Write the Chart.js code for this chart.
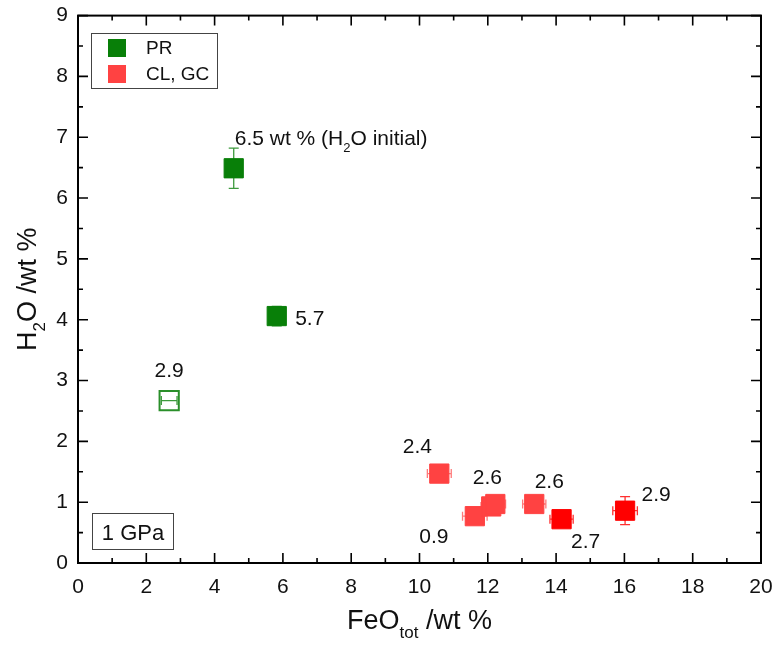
<!DOCTYPE html>
<html>
<head>
<meta charset="utf-8">
<script src="https://cdn.jsdelivr.net/npm/chart.js@4.4.0/dist/chart.umd.min.js"></script>
<style>
  html, body { margin: 0; padding: 0; background: #fff; }
  #wrap { width: 777px; height: 645px; }
</style>
</head>
<body>
<div id="wrap"><canvas id="feoChart"></canvas></div>
<script>
// PR runs, filled squares
const prFeO = [4.56, 5.82];
const prH2O = [6.49, 4.06];
const prErrX = [0, 0];
const prErrY = [0.33, 0.16];
const prNotes = ['6.5 wt % (H_{2}O initial)', '5.7'];

// PR run, open square
const prOpenFeO = [2.67];
const prOpenH2O = [2.67];
const prOpenErrX = [0.23];
const prOpenErrY = [0];
const prOpenNotes = ['2.9'];

// CL, GC runs
const clFeO = [10.58, 11.62, 12.1, 12.22, 13.36];
const clH2O = [1.47, 0.77, 0.93, 0.97, 0.97];
const clErrX = [0.35, 0.36, 0.3, 0.3, 0.34];
const clErrY = [0, 0, 0, 0, 0];
const clNotes = ['2.4', '0.9', '', '2.6', '2.6'];

// remaining runs, pure red
const redFeO = [14.16, 16.02];
const redH2O = [0.72, 0.86];
const redErrX = [0.34, 0.36];
const redErrY = [0, 0.23];
const redNotes = ['2.7', '2.9'];

// note placement: [dx, dy] in pixels from the point
const prNoteOffsets = [[1, -23], [33, 9]];
const prOpenNoteOffsets = [[0, -24]];
const clNoteOffsets = [[-22, -21], [-41, 27], [0, 0], [-8, -20], [15, -16]];
const redNoteOffsets = [[24, 29], [31, -10]];

const FONT = '"Liberation Sans", Arial, sans-serif';

function pts(xs, ys) {
  return xs.map((x, i) => ({ x: x, y: ys[i] }));
}

// draws text with _{...} subscripts
function drawRich(ctx, str, x, y, size, align) {
  const parts = [];
  const re = /_\{([^}]*)\}/g;
  let last = 0, m;
  while ((m = re.exec(str)) !== null) {
    if (m.index > last) parts.push([str.slice(last, m.index), false]);
    parts.push([m[1], true]);
    last = re.lastIndex;
  }
  if (last < str.length) parts.push([str.slice(last), false]);
  const sub = Math.round(size * 0.62);
  let total = 0;
  parts.forEach(p => {
    ctx.font = (p[1] ? sub : size) + 'px ' + FONT;
    p.push(ctx.measureText(p[0]).width);
    total += p[2];
  });
  let cx = align === 'center' ? x - total / 2 : (align === 'right' ? x - total : x);
  ctx.textAlign = 'left';
  ctx.textBaseline = 'alphabetic';
  parts.forEach(p => {
    ctx.font = (p[1] ? sub : size) + 'px ' + FONT;
    ctx.fillText(p[0], cx, p[1] ? y + size * 0.33 : y);
    cx += p[2];
  });
  return total;
}

const plotDecor = {
  id: 'plotDecor',
  beforeDatasetsDraw(chart) {
    const ctx = chart.ctx;
    const xs = chart.scales.x, ys = chart.scales.y;
    ctx.save();
    chart.data.datasets.forEach(ds => {
      ctx.strokeStyle = ds.errColor;
      ctx.lineWidth = 1.3;
      ds.data.forEach((p, i) => {
        const px = xs.getPixelForValue(p.x), py = ys.getPixelForValue(p.y);
        const ex = ds.errX[i], ey = ds.errY[i];
        ctx.beginPath();
        if (ex > 0) {
          const x0 = xs.getPixelForValue(p.x - ex), x1 = xs.getPixelForValue(p.x + ex);
          ctx.moveTo(x0, py); ctx.lineTo(x1, py);
          ctx.moveTo(x0, py - 4.5); ctx.lineTo(x0, py + 4.5);
          ctx.moveTo(x1, py - 4.5); ctx.lineTo(x1, py + 4.5);
        }
        if (ey > 0) {
          const y0 = ys.getPixelForValue(p.y - ey), y1 = ys.getPixelForValue(p.y + ey);
          ctx.moveTo(px, y0); ctx.lineTo(px, y1);
          ctx.moveTo(px - 5, y0); ctx.lineTo(px + 5, y0);
          ctx.moveTo(px - 5, y1); ctx.lineTo(px + 5, y1);
        }
        ctx.stroke();
      });
    });
    ctx.restore();
  },
  afterDraw(chart) {
    const ctx = chart.ctx;
    const a = chart.chartArea;
    const xs = chart.scales.x, ys = chart.scales.y;
    ctx.save();

    // frame
    ctx.strokeStyle = '#000';
    ctx.lineWidth = 2;
    ctx.strokeRect(a.left, a.top, a.right - a.left, a.bottom - a.top);

    // inward ticks on all four sides, minor ones halfway between
    ctx.lineWidth = 1.6;
    ctx.beginPath();
    const xt = xs.ticks.map(t => t.value);
    xt.forEach((v, i) => {
      const px = xs.getPixelForValue(v);
      ctx.moveTo(px, a.bottom); ctx.lineTo(px, a.bottom - 10);
      ctx.moveTo(px, a.top); ctx.lineTo(px, a.top + 10);
      if (i < xt.length - 1) {
        const mx = xs.getPixelForValue((v + xt[i + 1]) / 2);
        ctx.moveTo(mx, a.bottom); ctx.lineTo(mx, a.bottom - 5);
        ctx.moveTo(mx, a.top); ctx.lineTo(mx, a.top + 5);
      }
    });
    const yt = ys.ticks.map(t => t.value);
    yt.forEach((v, i) => {
      const py = ys.getPixelForValue(v);
      ctx.moveTo(a.left, py); ctx.lineTo(a.left + 10, py);
      ctx.moveTo(a.right, py); ctx.lineTo(a.right - 10, py);
      if (i < yt.length - 1) {
        const my = ys.getPixelForValue((v + yt[i + 1]) / 2);
        ctx.moveTo(a.left, my); ctx.lineTo(a.left + 5, my);
        ctx.moveTo(a.right, my); ctx.lineTo(a.right - 5, my);
      }
    });
    ctx.stroke();

    // notes beside the points
    ctx.fillStyle = '#111';
    chart.data.datasets.forEach(ds => {
      ds.data.forEach((p, i) => {
        const txt = ds.notes[i];
        if (!txt) return;
        const px = xs.getPixelForValue(p.x), py = ys.getPixelForValue(p.y);
        const off = ds.noteOffsets[i];
        const isLong = txt.length > 4;
        drawRich(ctx, txt, px + off[0], py + off[1], 21, isLong ? 'left' : 'center');
      });
    });

    // legend box
    ctx.strokeStyle = '#444';
    ctx.lineWidth = 1;
    ctx.strokeRect(91.5, 33.5, 126, 55);
    const legendSets = chart.data.datasets.filter(ds => ds.inLegend);
    legendSets.forEach((ds, i) => {
      const cy = 48 + i * 26;
      ctx.fillStyle = ds.backgroundColor;
      ctx.fillRect(108, cy - 9, 18, 18);
      ctx.fillStyle = '#111';
      ctx.font = '19px ' + FONT;
      ctx.textAlign = 'left';
      ctx.textBaseline = 'middle';
      ctx.fillText(ds.label, 146, cy + 1);
    });

    // pressure box
    ctx.strokeStyle = '#444';
    ctx.strokeRect(92.5, 513.5, 81, 36);
    ctx.fillStyle = '#111';
    drawRich(ctx, '1 GPa', 133, 540, 22, 'center');

    // axis titles
    drawRich(ctx, 'FeO_{tot} /wt %', (a.left + a.right) / 2, 629, 27, 'center');
    ctx.translate(36, (a.top + a.bottom) / 2);
    ctx.rotate(-Math.PI / 2);
    drawRich(ctx, 'H_{2}O /wt %', 0, 0, 27, 'center');

    ctx.restore();
  }
};

function squareSet(label, xs, ys, ex, ey, notes, offs, fill, edge, errColor, inLegend) {
  return {
    label: label,
    data: pts(xs, ys),
    errX: ex,
    errY: ey,
    notes: notes,
    noteOffsets: offs,
    errColor: errColor,
    inLegend: inLegend,
    backgroundColor: fill,
    borderColor: edge,
    pointStyle: 'rect',
    pointRadius: 13.6,
    pointHoverRadius: 13.6,
    pointBorderWidth: fill === 'rgba(0,0,0,0)' ? 2 : 1,
    showLine: false
  };
}

new Chart(document.getElementById('feoChart'), {
  type: 'scatter',
  data: {
    datasets: [
      squareSet('PR', prFeO, prH2O, prErrX, prErrY, prNotes, prNoteOffsets,
        '#087f08', '#087f08', '#3d9a3d', true),
      squareSet('PR open', prOpenFeO, prOpenH2O, prOpenErrX, prOpenErrY, prOpenNotes, prOpenNoteOffsets,
        'rgba(0,0,0,0)', '#2a8f2a', '#3d9a3d', false),
      squareSet('CL, GC', clFeO, clH2O, clErrX, clErrY, clNotes, clNoteOffsets,
        '#ff4242', '#ff4242', '#ff7a7a', true),
      squareSet('CL, GC red', redFeO, redH2O, redErrX, redErrY, redNotes, redNoteOffsets,
        '#ff0000', '#ff0000', '#ff3030', false)
    ]
  },
  options: {
    responsive: true,
    maintainAspectRatio: false,
    animation: false,
    layout: { padding: { top: 14, right: 16, left: 0, bottom: 0 } },
    plugins: {
      legend: { display: false },
      tooltip: { enabled: false }
    },
    scales: {
      x: {
        type: 'linear',
        min: 0,
        max: 20,
        grid: { display: false, drawTicks: false },
        border: { display: false },
        ticks: { stepSize: 2, padding: 12, color: '#111', font: { family: FONT, size: 21 } },
        afterFit(scale) {
          scale.height = 82;
          scale.paddingLeft = 0;
          scale.paddingRight = 0;
        }
      },
      y: {
        type: 'linear',
        min: 0,
        max: 9,
        grid: { display: false, drawTicks: false },
        border: { display: false },
        ticks: { stepSize: 1, padding: 10, color: '#111', font: { family: FONT, size: 21 } },
        afterFit(scale) {
          scale.width = 78;
          scale.paddingTop = 0;
          scale.paddingBottom = 0;
        }
      }
    }
  },
  plugins: [plotDecor]
});
</script>
</body>
</html>
